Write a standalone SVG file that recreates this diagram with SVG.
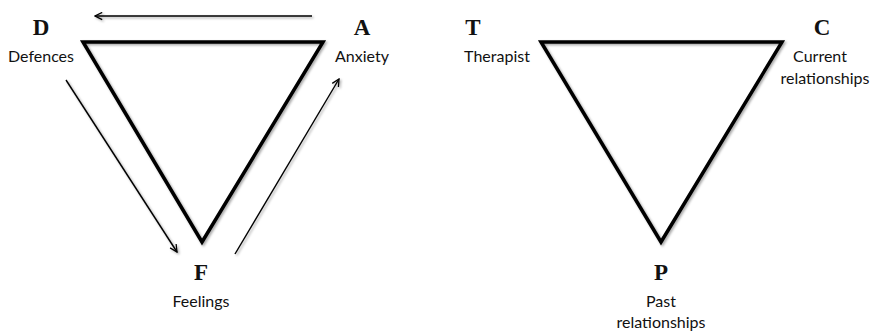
<svg xmlns="http://www.w3.org/2000/svg" width="871" height="331" viewBox="0 0 871 331">
<style>
.tri{fill:none;stroke:#000;stroke-width:3.5;stroke-linejoin:miter}
.conn{stroke:#000;stroke-width:1.4;fill:none}
.big{font-family:"Liberation Serif",serif;font-weight:bold;font-size:23px;text-anchor:middle;fill:#111}
.lbl{font-family:Lato,"Open Sans",sans-serif;font-size:16px;text-anchor:middle;fill:#111}
</style>
<defs>
<marker id="ah" viewBox="0 0 10 10" refX="9" refY="5" markerWidth="9" markerHeight="9" markerUnits="userSpaceOnUse" orient="auto">
<path d="M1,1 L9,5 L1,9" fill="none" stroke="#000" stroke-width="1.4"/>
</marker>
<filter id="sh" x="-10%" y="-10%" width="120%" height="120%">
<feDropShadow dx="1.5" dy="1.5" stdDeviation="1" flood-color="#000" flood-opacity="0.35"/>
</filter>
</defs>
<g id="triangle-dfa" filter="url(#sh)"><polygon class="tri" points="83,42 323,42 202,242"/></g>
<g id="triangle-tcp" filter="url(#sh)"><polygon class="tri" points="541,42 782,42 661,242"/></g>
<g id="connectors" filter="url(#sh)">
<line class="conn" x1="312" y1="16" x2="95" y2="16" marker-end="url(#ah)"/>
<line class="conn" x1="66" y1="80" x2="177" y2="252" marker-end="url(#ah)"/>
<line class="conn" x1="235" y1="254" x2="339" y2="79" marker-end="url(#ah)"/>
</g>
<g id="node-D"><text class="big" x="41" y="35">D</text><text class="lbl" x="41" y="62">Defences</text></g>
<g id="node-A"><text class="big" x="362" y="35">A</text><text class="lbl" x="362" y="62">Anxiety</text></g>
<g id="node-F"><text class="big" x="201" y="280">F</text><text class="lbl" x="201" y="307">Feelings</text></g>
<g id="node-T"><text class="big" x="473" y="35">T</text><text class="lbl" x="497" y="62">Therapist</text></g>
<g id="node-C"><text class="big" x="822" y="35">C</text><text class="lbl" x="820" y="62">Current</text><text class="lbl" x="825" y="84">relationships</text></g>
<g id="node-P"><text class="big" x="661" y="280">P</text><text class="lbl" x="661" y="307">Past</text><text class="lbl" x="661" y="328">relationships</text></g>
</svg>
